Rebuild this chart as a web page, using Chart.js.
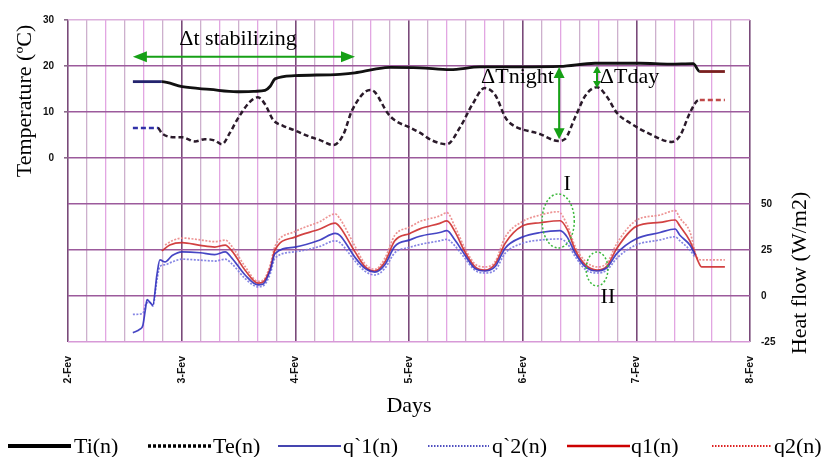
<!DOCTYPE html>
<html><head><meta charset="utf-8">
<script src="https://cdn.jsdelivr.net/npm/chart.js@4.4.1/dist/chart.umd.min.js"></script>
<style>html,body{margin:0;padding:0;background:#fff}#wrap{width:827px;height:457px;position:relative}</style>
</head><body><div id="wrap"><canvas id="c" width="827" height="457"></canvas></div>
<script>
// ---- data (x in hours since 2-Fev 00:00) ----
const dayLabels = ['2-Fev','3-Fev','4-Fev','5-Fev','6-Fev','7-Fev','8-Fev'];
const tempTickLabels = [0, 10, 20, 30];
const flowTickLabels = [-25, 0, 25, 50];

const tiHours = [13.7,19.8,24.1,30.0,35.7,39.5,41.6,42.7,43.7,47.9,57.4,60.6,64.8,68.0,74.3,80.7,87.0,95.4,103.9,111.3,120.8,127.1,132.0,133.4,138.7];
const tiValues = [16.6,16.6,15.5,14.9,14.4,14.5,14.7,15.6,17.2,17.9,18.2,18.5,19.3,19.7,19.6,19.2,19.8,19.8,19.9,20.6,20.6,20.4,20.5,18.8,18.8];

const teHours = [13.7,19.0,19.8,22.6,24.1,26.8,28.9,31.0,32.5,34.2,35.7,38.4,40.1,41.6,43.3,45.4,47.9,51.1,53.2,56.0,58.1,60.0,63.8,64.8,67.6,69.0,72.2,74.3,76.9,80.0,82.8,85.3,88.0,90.2,92.3,93.3,99.7,103.5,104.9,107.1,109.2,111.7,113.8,115.9,118.7,122.9,127.5,129.2,131.3,132.8,133.4,138.7];
const teValues = [6.5,6.5,5.4,4.5,4.5,3.6,4.1,3.8,3.0,5.5,8.3,12.2,13.2,11.7,8.3,7.0,6.0,4.6,3.9,2.8,5.0,10.4,14.8,14.3,9.6,8.2,6.6,5.5,3.8,3.0,6.7,11.5,15.2,13.7,8.9,7.6,5.2,3.7,4.1,8.9,13.5,15.4,13.3,9.8,7.6,5.2,3.5,4.8,9.8,12.4,12.6,12.6];

const qp1Hours = [13.7,15.2,15.8,16.3,16.7,17.3,17.9,18.8,19.4,20.5,22.0,24.1,27.9,31.0,33.2,34.6,37.4,40.1,41.2,42.7,43.7,47.9,53.2,56.4,57.4,60.6,62.7,64.8,66.9,69.0,72.2,74.3,78.5,80.0,81.7,83.8,85.9,88.0,90.2,92.3,95.9,99.7,103.9,105.4,107.1,109.2,111.7,113.8,115.9,119.9,125.0,128.2,129.2,131.3,132.4];
const qp1Values = [-20,-18,-16,-8,-2,-3.5,-5,12,19.6,18.5,22,24,23.5,22.5,24,20.6,11.4,6,6.5,14,23,26.6,30.4,34,33,21,15,13,17,27,30.5,32.5,34.5,35.5,30.4,22.3,15,13.6,16,26,32,34.5,35.5,32,23.2,16,13.6,15.4,23.2,31,34.5,36.4,33,27.7,22.5];

const qp2Hours = [13.7,15.8,16.5,17.3,17.9,18.8,19.4,20.5,22.0,24.1,27.9,31.0,33.2,34.6,37.4,40.1,41.2,42.7,43.7,47.9,53.2,56.4,57.4,60.6,62.7,64.8,66.9,69.0,72.2,74.3,78.5,80.0,81.7,83.8,85.9,88.0,90.2,92.3,95.9,99.7,103.9,105.4,107.1,109.2,111.7,113.8,115.9,119.9,125.0,128.2,129.2,131.3,132.4];
const qp2Values = [-10,-9.5,-4,-3.5,-5.5,9,16,17,18.5,20,19.5,19,20,17.5,9.5,5,5.5,12,20.6,24,27,30,29,19,13.5,11.4,15,23.5,26.5,28,30,30.8,27.2,20.5,14,12.5,14.1,23.2,28.6,30.4,31,28.6,21.4,14.5,12.5,14.1,20.6,27.7,30.5,32.2,30,25,21];

const q1Hours = [19.8,21.5,24.1,27.9,31.0,33.2,34.6,37.4,40.1,41.2,42.7,43.7,47.9,53.2,56.4,57.4,60.6,62.7,64.8,66.9,69.0,72.2,74.3,78.5,80.0,81.7,83.8,85.9,88.0,90.2,92.3,95.9,99.7,103.9,105.4,107.1,109.2,111.7,113.8,115.9,119.9,125.0,128.2,129.2,131.3,132.4,133.1,133.8,138.7];
const q1Values = [24.5,27.7,29,27.5,26.6,27.7,24.5,14,7,7.6,15,25,32,36.4,39.6,37.5,24,16,13.6,18.5,30,34,36.5,39.5,40.8,35,24,16,14.1,17.4,28.6,38,39.8,40.9,36.2,25,17,14.1,16.3,26,37.7,40,41.3,38,30,23,18.5,15.8,15.8];

const q2Hours = [20.5,22.0,24.1,27.9,31.0,33.2,34.6,37.4,40.1,41.2,42.7,43.7,47.9,53.2,56.4,57.4,60.6,62.7,64.8,66.9,69.0,72.2,74.3,78.5,80.0,81.7,83.8,85.9,88.0,90.2,92.3,95.9,99.7,103.5,105.4,107.1,109.2,111.7,113.8,115.9,119.9,125.0,128.2,129.2,131.3,132.8,133.8,138.7];
const q2Values = [27.7,30,31.5,30.5,29.5,30.4,27,16,8,8.5,17,27,35,40.5,44.6,42,27,17.5,14.5,20.5,33,37.5,40.5,43.5,45.3,37.7,26,17.5,15.8,18.7,32,40.4,44,45.8,38.6,26.8,19,15.8,18,28.6,41,44,46.4,42.3,35,21,19.6,19.6];

// annotation anchors in data units (hours, °C or W/m2)
const stabArrow = [13.7, 60.6, 22.0];          // x1, x2, temp
const stabText = [35.9, 24.6];
const nightArrow = [103.7, 19.8, 4.1];          // x, temp top, temp bottom
const nightText = [102.6, 16.3];
const dayArrow = [111.7, 20.0, 15.2];
const dayText = [112.3, 16.3];
const ellipseI = [103.5, 40.8, 3.4, 14.7];      // cx(h), cy(flow), rx(h), ry(flow)
const labelI = [105.4, 57.6];
const ellipseII = [111.7, 14.7, 2.3, 9.2];
const labelII = [114.0, -3.8];

function pts(xs, ys) { return xs.map((x, i) => ({x: x, y: ys[i]})); }

const GREEN = '#16a016';
const SERIF = '"Liberation Serif", "Times New Roman", serif';

function arrowHead(ctx, x, y, ang, len, half) {
  ctx.beginPath();
  ctx.moveTo(x, y);
  ctx.lineTo(x - len * Math.cos(ang) + half * Math.sin(ang), y - len * Math.sin(ang) - half * Math.cos(ang));
  ctx.lineTo(x - len * Math.cos(ang) - half * Math.sin(ang), y - len * Math.sin(ang) + half * Math.cos(ang));
  ctx.closePath();
  ctx.fill();
}
function dblArrow(ctx, x1, y1, x2, y2, len, half) {
  const ang = Math.atan2(y2 - y1, x2 - x1);
  ctx.save();
  ctx.strokeStyle = GREEN; ctx.fillStyle = GREEN; ctx.lineWidth = 2;
  ctx.beginPath();
  ctx.moveTo(x1 + Math.cos(ang) * len * 0.8, y1 + Math.sin(ang) * len * 0.8);
  ctx.lineTo(x2 - Math.cos(ang) * len * 0.8, y2 - Math.sin(ang) * len * 0.8);
  ctx.stroke();
  arrowHead(ctx, x2, y2, ang, len, half);
  arrowHead(ctx, x1, y1, ang + Math.PI, len, half);
  ctx.restore();
}

const decor = {
  id: 'decor',
  afterDatasetsDraw(chart) {
    const ctx = chart.ctx;
    const xs = chart.scales.x, yt = chart.scales.yT, yq = chart.scales.yQ;
    ctx.save();
    ctx.fillStyle = '#000';
    ctx.font = '22px ' + SERIF;
    // axis titles
    ctx.save();
    ctx.translate(25, (yt.getPixelForValue(30) + yt.getPixelForValue(0)) / 2 + 12);
    ctx.rotate(-Math.PI / 2);
    ctx.textAlign = 'center'; ctx.textBaseline = 'middle';
    ctx.fillText('Temperature (ºC)', 0, 0);
    ctx.restore();
    ctx.save();
    ctx.translate(800, (yq.getPixelForValue(50) + yq.getPixelForValue(-25)) / 2);
    ctx.rotate(-Math.PI / 2);
    ctx.textAlign = 'center'; ctx.textBaseline = 'middle';
    ctx.fillText('Heat flow (W/m2)', 0, 0);
    ctx.restore();
    ctx.textAlign = 'center'; ctx.textBaseline = 'alphabetic';
    ctx.fillText('Days', (xs.left + xs.right) / 2, 412);

    // stabilizing arrow
    dblArrow(ctx, xs.getPixelForValue(stabArrow[0]), yt.getPixelForValue(stabArrow[2]),
      xs.getPixelForValue(stabArrow[1]), yt.getPixelForValue(stabArrow[2]), 14, 5.5);
    ctx.fillStyle = '#000';
    ctx.textAlign = 'center';
    ctx.fillText('\u0394t stabilizing', xs.getPixelForValue(stabText[0]), yt.getPixelForValue(stabText[1]));
    // night arrow
    dblArrow(ctx, xs.getPixelForValue(nightArrow[0]), yt.getPixelForValue(nightArrow[1]),
      xs.getPixelForValue(nightArrow[0]), yt.getPixelForValue(nightArrow[2]), 11, 5.5);
    ctx.fillStyle = '#000';
    ctx.textAlign = 'right';
    ctx.fillText('\u0394Tnight', xs.getPixelForValue(nightText[0]), yt.getPixelForValue(nightText[1]));
    dblArrow(ctx, xs.getPixelForValue(dayArrow[0]), yt.getPixelForValue(dayArrow[1]),
      xs.getPixelForValue(dayArrow[0]), yt.getPixelForValue(dayArrow[2]), 7, 4);
    ctx.fillStyle = '#000';
    ctx.textAlign = 'left';
    ctx.fillText('\u0394Tday', xs.getPixelForValue(dayText[0]), yt.getPixelForValue(dayText[1]));
    // ellipses
    [ellipseI, ellipseII].forEach(e => {
      const cx = xs.getPixelForValue(e[0]), cy = yq.getPixelForValue(e[1]);
      const rx = xs.getPixelForValue(e[0] + e[2]) - cx, ry = cy - yq.getPixelForValue(e[1] + e[3]);
      ctx.save();
      ctx.strokeStyle = '#3cb83c'; ctx.lineWidth = 1.5; ctx.setLineDash([2, 2]);
      ctx.beginPath(); ctx.ellipse(cx, cy, rx, ry, 0, 0, Math.PI * 2); ctx.stroke();
      ctx.restore();
    });
    ctx.textAlign = 'center';
    ctx.fillText('I', xs.getPixelForValue(labelI[0]), yq.getPixelForValue(labelI[1]));
    ctx.fillText('II', xs.getPixelForValue(labelII[0]), yq.getPixelForValue(labelII[1]));

    // legend
    const items = chart.data.datasets.map((d, i) => ({
      label: d.label, color: d.legendColor, dash: d.legendDash, width: d.legendWidth,
      x1: [8, 148, 278, 428, 567, 712][i], x2: [71, 211, 341, 489, 630, 772][i], tx: [74, 213, 343, 492, 631, 774][i]
    }));
    const ly = 446;
    items.forEach(it => {
      ctx.save();
      ctx.strokeStyle = it.color; ctx.lineWidth = it.width; ctx.setLineDash(it.dash);
      ctx.beginPath(); ctx.moveTo(it.x1, ly); ctx.lineTo(it.x2, ly); ctx.stroke();
      ctx.restore();
      ctx.fillStyle = '#000'; ctx.textAlign = 'left'; ctx.textBaseline = 'alphabetic';
      ctx.fillText(it.label, it.tx, ly + 7);
    });
    ctx.restore();
  }
};

function seg(startColor, endColor, startMax, endMin) {
  return {
    borderColor: c => c.p1.parsed.x <= startMax ? startColor : (c.p0.parsed.x >= endMin ? endColor : undefined)
  };
}

const common = { pointRadius: 0, pointHoverRadius: 0, fill: false, cubicInterpolationMode: 'monotone' };

new Chart(document.getElementById('c'), {
  type: 'line',
  data: {
    datasets: [
      Object.assign({ label: 'Ti(n)', data: pts(tiHours, tiValues), yAxisID: 'yT', borderColor: '#111', borderWidth: 2.8,
        segment: seg('#24246e', '#7a1f1f', 19.9, 133.3), legendColor: '#000', legendDash: [], legendWidth: 4 }, common),
      Object.assign({ label: 'Te(n)', data: pts(teHours, teValues), yAxisID: 'yT', borderColor: '#2a1a2a', borderWidth: 2.5, borderDash: [5, 3],
        segment: seg('#3030a8', '#c04848', 19.1, 133.3), legendColor: '#000', legendDash: [3, 2], legendWidth: 3.5 }, common),
      Object.assign({ label: 'q`1(n)', data: pts(qp1Hours, qp1Values), yAxisID: 'yQ', borderColor: 'rgba(50,50,190,0.9)', borderWidth: 1.7,
        legendColor: '#4545b0', legendDash: [], legendWidth: 2 }, common),
      Object.assign({ label: 'q`2(n)', data: pts(qp2Hours, qp2Values), yAxisID: 'yQ', borderColor: 'rgba(120,120,225,0.9)', borderWidth: 1.7, borderDash: [2, 1.5],
        legendColor: '#5050c0', legendDash: [1.5, 1.5], legendWidth: 2 }, common),
      Object.assign({ label: 'q1(n)', data: pts(q1Hours, q1Values), yAxisID: 'yQ', borderColor: 'rgba(205,45,45,0.9)', borderWidth: 1.7,
        legendColor: '#cc0000', legendDash: [], legendWidth: 2.5 }, common),
      Object.assign({ label: 'q2(n)', data: pts(q2Hours, q2Values), yAxisID: 'yQ', borderColor: 'rgba(235,135,135,0.9)', borderWidth: 1.7, borderDash: [2, 1.5],
        legendColor: '#dd2222', legendDash: [1.5, 1.5], legendWidth: 2 }, common)
    ]
  },
  options: {
    responsive: false,
    animation: false,
    layout: { padding: { top: 20, left: 0, right: 0, bottom: 0 } },
    plugins: { legend: { display: false }, tooltip: { enabled: false } },
    scales: {
      x: {
        type: 'linear', min: 0, max: 144,
        afterFit: s => { s.height = 115; },
        border: { display: false },
        grid: {
          drawTicks: false,
          color: c => c.tick.value % 24 === 0 ? '#7a4a7a' : (c.tick.value % 8 === 4 ? '#cdb0cd' : '#e2a6e2'),
          lineWidth: c => c.tick.value % 24 === 0 ? 1.6 : 1.3
        },
        ticks: {
          stepSize: 4, autoSkip: false, maxRotation: 90, minRotation: 90, padding: 14,
          color: '#111', font: { family: '"Liberation Sans", Arial, sans-serif', weight: 'bold', size: 10.5 },
          callback: v => v % 24 === 0 ? dayLabels[v / 24] : ''
        }
      },
      yT: {
        position: 'left', min: -40, max: 30,
        afterFit: s => { s.width = 68; },
        border: { display: false },
        grid: {
          color: c => c.tick.value === 30 ? '#dcb0dc' : (c.tick.value === -40 ? '#d79ad7' : '#9c5a9c'),
          lineWidth: 1.6, tickLength: 4,
          tickColor: c => tempTickLabels.includes(c.tick.value) ? '#8a6a8a' : 'rgba(0,0,0,0)'
        },
        ticks: {
          stepSize: 10, padding: 10, color: '#111',
          font: { family: '"Liberation Sans", Arial, sans-serif', weight: 'bold', size: 10 },
          callback: v => tempTickLabels.includes(v) ? String(v) : ''
        }
      },
      yQ: {
        position: 'right', min: -25, max: 150,
        afterFit: s => { s.width = 77; },
        border: { display: false },
        grid: { drawOnChartArea: false, drawTicks: false },
        ticks: {
          stepSize: 25, padding: 11, color: '#111',
          font: { family: '"Liberation Sans", Arial, sans-serif', weight: 'bold', size: 10 },
          callback: v => flowTickLabels.includes(v) ? String(v) : ''
        }
      }
    }
  },
  plugins: [decor]
});
</script></body></html>
